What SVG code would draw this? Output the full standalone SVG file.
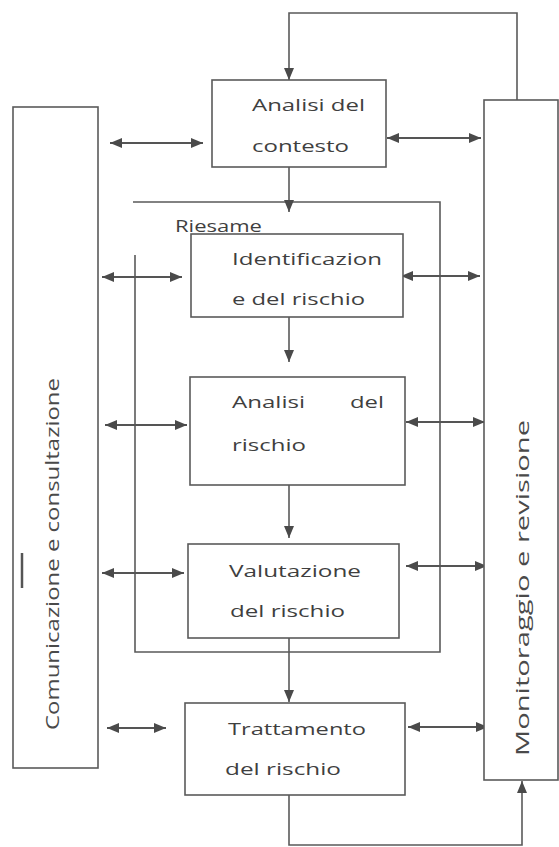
<svg xmlns="http://www.w3.org/2000/svg" width="559" height="847" viewBox="0 0 559 847">
<style>
  .box { fill: #ffffff; stroke: #5a5a5a; stroke-width: 1.6; }
  .ln { fill: none; stroke: #5a5a5a; stroke-width: 1.6; }
  .arr { fill: none; stroke: #555555; stroke-width: 2; }
  .t { font-family: "Open Sans", "DejaVu Sans", sans-serif; font-size: 17px; fill: #3f3f3f; }
  .tv { font-family: "Open Sans", "DejaVu Sans", sans-serif; font-size: 18px; fill: #4a4a4a; text-anchor: middle; }
</style>
<defs>
  <marker id="ah" viewBox="0 0 12 10" refX="12" refY="5" markerWidth="12" markerHeight="10" markerUnits="userSpaceOnUse" orient="auto-start-reverse">
    <path d="M0,0 L12,5 L0,10 z" fill="#4a4a4a"/>
  </marker>
</defs>
<rect width="559" height="847" fill="#ffffff"/>

<g id="connectors">
  <path class="ln" d="M133,202 H440 V652 H135 V255"/>
  <path class="ln" d="M517,100 V13 H289 V80" marker-end="url(#ah)"/>
  <path class="ln" d="M289,167 V212" marker-end="url(#ah)"/>
  <path class="ln" d="M289,317 V362" marker-end="url(#ah)"/>
  <path class="ln" d="M289,485 V538" marker-end="url(#ah)"/>
  <path class="ln" d="M289,638 V702" marker-end="url(#ah)"/>
  <path class="ln" d="M289,795 V845 H522 V781" marker-end="url(#ah)"/>
  <line class="arr" x1="110" y1="143" x2="203" y2="143" marker-start="url(#ah)" marker-end="url(#ah)"/>
  <line class="arr" x1="387" y1="138" x2="481" y2="138" marker-start="url(#ah)" marker-end="url(#ah)"/>
  <line class="arr" x1="102" y1="277" x2="182" y2="277" marker-start="url(#ah)" marker-end="url(#ah)"/>
  <line class="arr" x1="401" y1="276" x2="480" y2="276" marker-start="url(#ah)" marker-end="url(#ah)"/>
  <line class="arr" x1="105" y1="425" x2="187" y2="425" marker-start="url(#ah)" marker-end="url(#ah)"/>
  <line class="arr" x1="406" y1="422" x2="485" y2="422" marker-start="url(#ah)" marker-end="url(#ah)"/>
  <line class="arr" x1="102" y1="573" x2="184" y2="573" marker-start="url(#ah)" marker-end="url(#ah)"/>
  <line class="arr" x1="406" y1="566" x2="487" y2="566" marker-start="url(#ah)" marker-end="url(#ah)"/>
  <line class="arr" x1="107" y1="728" x2="166" y2="728" marker-start="url(#ah)" marker-end="url(#ah)"/>
  <line class="arr" x1="408" y1="727" x2="488" y2="727" marker-start="url(#ah)" marker-end="url(#ah)"/>
</g>

<g id="riesame-label">
  <text class="t" x="175" y="232" textLength="87" lengthAdjust="spacingAndGlyphs">Riesame</text>
</g>

<g id="comunicazione">
  <rect class="box" x="13" y="107" width="85" height="661"/>
  <text class="tv" transform="translate(59,554) rotate(-90)" textLength="352" lengthAdjust="spacingAndGlyphs">Comunicazione e consultazione</text>
  <line x1="22" y1="553" x2="22" y2="588" stroke="#555555" stroke-width="2.5"/>
</g>

<g id="monitoraggio">
  <rect class="box" x="484" y="100" width="74" height="680"/>
  <text class="tv" style="font-size:19px" transform="translate(529,588) rotate(-90)" textLength="336" lengthAdjust="spacingAndGlyphs">Monitoraggio e revisione</text>
</g>

<g id="contesto">
  <rect class="box" x="212" y="80" width="174" height="87"/>
  <text class="t" x="252" y="111" textLength="113" lengthAdjust="spacingAndGlyphs">Analisi del</text>
  <text class="t" x="252" y="152" textLength="97" lengthAdjust="spacingAndGlyphs">contesto</text>
</g>

<g id="identificazione">
  <rect class="box" x="191" y="234" width="212" height="83"/>
  <text class="t" x="232" y="265" textLength="150" lengthAdjust="spacingAndGlyphs">Identificazion</text>
  <text class="t" x="232" y="305" textLength="133" lengthAdjust="spacingAndGlyphs">e del rischio</text>
</g>

<g id="analisi">
  <rect class="box" x="190" y="377" width="215" height="108"/>
  <text class="t" x="232" y="408" textLength="73" lengthAdjust="spacingAndGlyphs">Analisi</text>
  <text class="t" x="350" y="408" textLength="34" lengthAdjust="spacingAndGlyphs">del</text>
  <text class="t" x="232" y="451" textLength="74" lengthAdjust="spacingAndGlyphs">rischio</text>
</g>

<g id="valutazione">
  <rect class="box" x="188" y="544" width="211" height="94"/>
  <text class="t" x="229" y="577" textLength="132" lengthAdjust="spacingAndGlyphs">Valutazione</text>
  <text class="t" x="230" y="617" textLength="115" lengthAdjust="spacingAndGlyphs">del rischio</text>
</g>

<g id="trattamento">
  <rect class="box" x="185" y="703" width="220" height="92"/>
  <text class="t" x="228" y="735" textLength="138" lengthAdjust="spacingAndGlyphs">Trattamento</text>
  <text class="t" x="225" y="775" textLength="116" lengthAdjust="spacingAndGlyphs">del rischio</text>
</g>
</svg>
